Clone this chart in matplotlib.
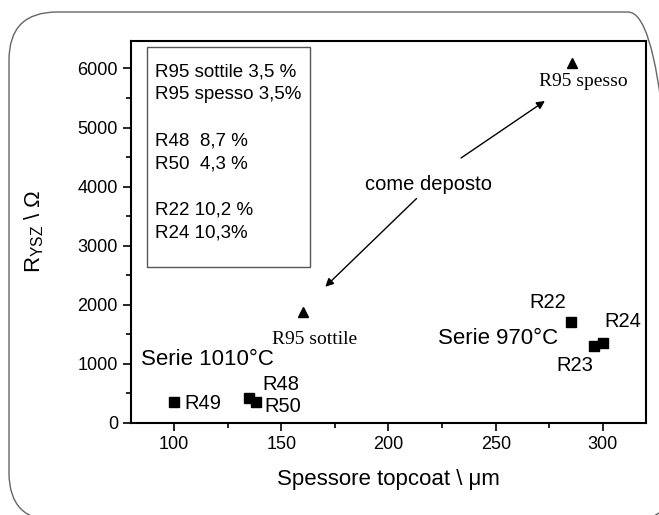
import matplotlib.pyplot as plt
from matplotlib.patches import FancyBboxPatch, Rectangle
from matplotlib.transforms import IdentityTransform

plt.rcParams['font.family'] = ['Liberation Sans', 'DejaVu Sans']

# sintered series (squares)
sq_names = ["R49", "R48", "R50", "R22", "R23", "R24"]
sq_thick = [100, 135, 138, 285, 296, 300]
sq_res = [350, 420, 360, 1700, 1300, 1350]

# as deposited (triangles)
tri_names = ["R95 sottile", "R95 spesso"]
tri_thick = [160, 285.5]
tri_res = [1870, 6100]

box_lines = ["R95 sottile 3,5 %", "R95 spesso 3,5%", "",
             "R48  8,7 %", "R50  4,3 %", "",
             "R22 10,2 %", "R24 10,3%"]

fig = plt.figure(figsize=(6.59, 5.15), dpi=100)
ax = fig.add_axes([0.199, 0.179, 0.781, 0.742])

ax.plot(sq_thick, sq_res, 's', color='black', markersize=6.5, linestyle='none')
ax.plot(tri_thick, tri_res, '^', color='black', markersize=6.5, linestyle='none')

ax.set_xlim(80, 320)
ax.set_ylim(0, 6470)
ax.set_xticks([100, 150, 200, 250, 300])
ax.set_xticks([125, 175, 225, 275], minor=True)
ax.set_yticks(range(0, 7000, 1000))
ax.set_yticks(range(500, 6500, 1000), minor=True)
ax.tick_params(which='major', direction='out', length=6, width=1.2, labelsize=13)
ax.tick_params(which='minor', direction='out', length=3.5, width=1.2)
for s in ax.spines.values():
    s.set_linewidth(1.5)

ax.set_xlabel('Spessore topcoat \\ \u03bcm', fontsize=16)
ax.set_ylabel('$\\mathregular{R_{YSZ}}$ \\ \u03a9', fontsize=16)
ax.xaxis.set_label_coords(0.5, -0.12)
ax.yaxis.set_label_coords(-0.165, 0.5)

# point labels
lab = dict(fontsize=14.5, va='center')
ax.text(84.7, 1068, "Serie 1010\u00b0C", fontsize=16, va='center')
ax.text(105, 330, "R49", **lab)
ax.text(141, 644, "R48", **lab)
ax.text(142, 271, "R50", **lab)
ax.text(265.5, 2034, "R22", **lab)
ax.text(300.5, 1712, "R24", **lab)
ax.text(279, 1424, "Serie 970\u00b0C", fontsize=16, va='center', ha='right')
ax.text(278.5, 966, "R23", **lab)

ax.text(270.4, 5780, tri_names[1], fontsize=14, va='center', family='Liberation Serif')
ax.text(145.5, 1407, tri_names[0], fontsize=14, va='center', family='Liberation Serif')

# arrows from "come deposto"
ax.text(218.5, 4034, "come deposto", fontsize=14.5, va='center', ha='center')
ax.annotate("", xy=(274, 5475), xytext=(232.8, 4458),
            arrowprops=dict(arrowstyle='-|>', color='black', lw=1, mutation_scale=12))
ax.annotate("", xy=(169.6, 2271), xytext=(214, 3830),
            arrowprops=dict(arrowstyle='-|>', color='black', lw=1, mutation_scale=12))

# box with porosity values
ax.add_patch(Rectangle((0.031, 0.408), 0.317, 0.576, transform=ax.transAxes,
                       fill=False, edgecolor='#555555', lw=1))
for i, line in enumerate(box_lines):
    if line:
        ax.text(0.046, (423 - (72 + i * 23.0)) / 382, line, transform=ax.transAxes,
                fontsize=13.5, va='center')

# rounded frame around the figure (cut off at right and bottom)
r = 48
x0, x1, y0, y1 = 9, 676, -6, 503
frame = FancyBboxPatch((x0 + r, y0 + r), x1 - x0 - 2 * r, y1 - y0 - 2 * r,
                       boxstyle="round,pad=%d" % r, transform=IdentityTransform(),
                       fill=False, edgecolor='#666666', lw=1)
fig.patches.append(frame)

fig.savefig("out.png", dpi=100)
